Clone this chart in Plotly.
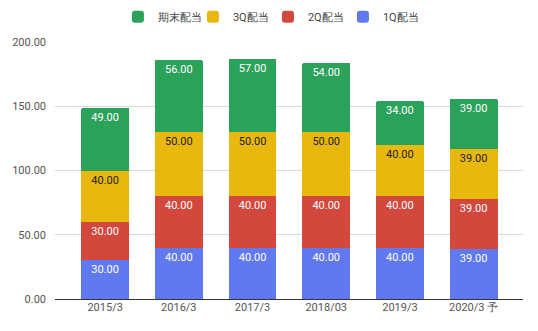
import plotly.graph_objects as go

categories = ["2015/3", "2016/3", "2017/3", "2018/03", "2019/3", "2020/3 予"]
q1 = [30, 40, 40, 40, 40, 39]
q2 = [30, 40, 40, 40, 40, 39]
q3 = [40, 50, 50, 50, 40, 39]
qend = [49, 56, 57, 54, 34, 39]

series = [
    ("1Q配当", q1, "#6079ef", "#ffffff"),
    ("2Q配当", q2, "#d2483d", "#ffffff"),
    ("3Q配当", q3, "#e9b80f", "#222222"),
    ("期末配当", qend, "#2ba25a", "#ffffff"),
]

fig = go.Figure()
for name, vals, color, tcolor in series:
    fig.add_trace(go.Bar(
        x=list(range(len(categories))), y=vals, name=name,
        marker=dict(color=color, line=dict(width=0)),
        texttemplate="%{y:.2f}", textposition="inside", insidetextanchor="end",
        textangle=0,
        textfont=dict(family="Roboto", size=11, color=tcolor),
        width=0.65,
    ))

fig.update_layout(
    barmode="stack",
    barcornerradius=2,
    width=538, height=331,
    margin=dict(l=55, r=15, t=42, b=32, autoexpand=False),
    paper_bgcolor="white", plot_bgcolor="white",
    font=dict(family="Roboto", size=11, color="#555555"),
    legend=dict(orientation="h", x=0.455, xanchor="center", y=0.993, yanchor="top",
                yref="container", traceorder="reversed",
                entrywidth=30, entrywidthmode="pixels",
                font=dict(size=11, color="#444444")),
    xaxis=dict(tickmode="array", tickvals=list(range(len(categories))), ticktext=categories,
               range=[-0.68, 5.67], showgrid=False, showline=False, zeroline=False,
               ticks="", tickfont=dict(size=11, color="#555555")),
    yaxis=dict(range=[0, 200], tickvals=[0, 50, 100, 150, 200], tickformat=".2f",
               showgrid=True, gridcolor="#d9d9d9", gridwidth=1,
               zeroline=True, zerolinecolor="#333333", zerolinewidth=1,
               ticks="", ticklabelstandoff=8, tickfont=dict(size=11, color="#555555")),
    showlegend=True,
)
fig.write_html("out.html")
